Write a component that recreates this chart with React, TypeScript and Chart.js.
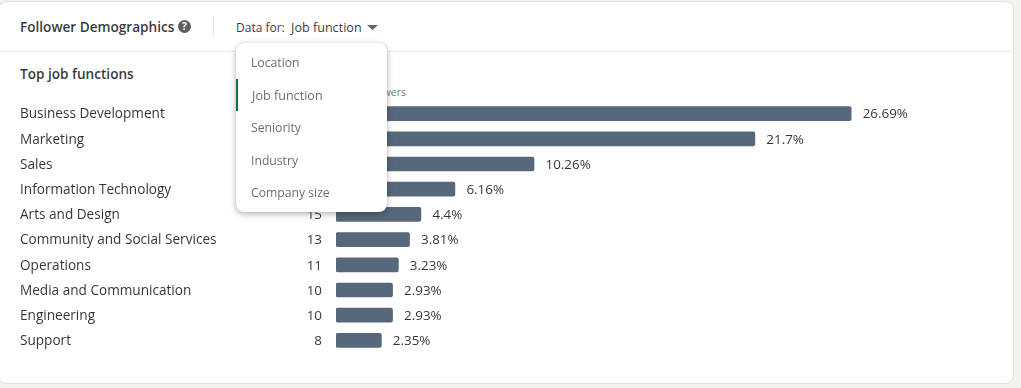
import React, { useEffect, useRef } from "react";
import { Chart, registerables } from "chart.js";

Chart.register(...registerables);

const categories = [
  "Business Development",
  "Marketing",
  "Sales",
  "Information Technology",
  "Arts and Design",
  "Community and Social Services",
  "Operations",
  "Media and Communication",
  "Engineering",
  "Support",
];
const followerCounts = [91, 74, 35, 21, 15, 13, 11, 10, 10, 8];
const percentages = [26.69, 21.7, 10.26, 6.16, 4.4, 3.81, 3.23, 2.93, 2.93, 2.35];
const menuItems = ["Location", "Job function", "Seniority", "Industry", "Company size"];
const menuTops = [53, 86, 118, 151, 183];

const FONT = '"Open Sans", sans-serif';
const TEXT = "rgba(0,0,0,0.8)";
const LABEL_FONT = `13.4px ${FONT}`;

const columnsPlugin = {
  id: "columns",
  afterDatasetsDraw(chart: any) {
    const { ctx } = chart;
    const meta = chart.getDatasetMeta(0);
    ctx.save();
    ctx.font = LABEL_FONT;
    ctx.fillStyle = TEXT;
    ctx.textBaseline = "middle";
    meta.data.forEach((bar: any, i: number) => {
      ctx.textAlign = "left";
      ctx.fillText(`${percentages[i]}%`, bar.x + 11.5, bar.y + 1);
      ctx.textAlign = "right";
      ctx.fillText(String(followerCounts[i]), 322, bar.y + 1);
    });
    ctx.restore();
  },
};

const abs = (left: number, top: number, extra: React.CSSProperties = {}): React.CSSProperties => ({
  position: "absolute",
  left,
  top,
  whiteSpace: "nowrap",
  lineHeight: "20px",
  ...extra,
});

export default function App() {
  const ref = useRef<HTMLCanvasElement>(null);

  useEffect(() => {
    document.body.style.margin = "0";
    document.body.style.background = "#f3f2ee";
    const chart = new Chart(ref.current!, {
      type: "bar",
      data: {
        labels: categories,
        datasets: [
          {
            data: percentages,
            backgroundColor: "#56687a",
            barThickness: 14,
            borderRadius: 2,
            borderSkipped: false,
          },
        ],
      },
      options: {
        indexAxis: "y",
        animation: false,
        responsive: false,
        events: [],
        layout: { padding: { left: 20, top: 101, bottom: 35, right: 21 } },
        plugins: { legend: { display: false }, tooltip: { enabled: false } },
        scales: {
          x: { display: false, min: 0, max: 34.4 },
          y: {
            afterFit(scale: any) {
              scale.width = 316;
            },
            border: { display: false },
            grid: { display: false, drawTicks: false },
            ticks: {
              crossAlign: "far",
              padding: 0,
              labelOffset: 1,
              color: TEXT,
              font: { family: FONT, size: 13.6 },
            },
          },
        },
      },
      plugins: [columnsPlugin],
    });
    return () => chart.destroy();
  }, []);

  return (
    <div style={{ position: "relative", width: 1021, height: 388, overflow: "hidden", fontFamily: FONT, fontSize: 13.6, color: TEXT }}>
      <div
        style={{
          position: "absolute",
          left: -1,
          top: 2,
          width: 1014,
          height: 381,
          background: "#fff",
          borderRadius: 8,
          boxShadow: "0 0 0 1px rgba(0,0,0,0.08)",
        }}
      />
      <div style={{ position: "absolute", left: 0, top: 51, width: 1013, height: 1, background: "#ebebeb" }} />
      <div style={{ position: "absolute", left: 213, top: 16, width: 1, height: 21, background: "#e8e8e8" }} />
      <div style={abs(20, 17, { fontWeight: 600, fontSize: 13.6 })}>Follower Demographics</div>
      <svg style={{ position: "absolute", left: 178, top: 20 }} width="13" height="13" viewBox="0 0 13 13">
        <circle cx="6.5" cy="6.5" r="6.5" fill="#5e5e5e" />
        <text x="6.5" y="10.2" textAnchor="middle" fontSize="10" fontWeight="700" fill="#fff" fontFamily={FONT}>?</text>
      </svg>
      <div style={abs(236, 18, { fontSize: 12 })}>Data for:</div>
      <div style={abs(291, 18, { fontSize: 12.6 })}>Job function</div>
      <svg style={{ position: "absolute", left: 367, top: 25 }} width="11" height="5" viewBox="0 0 11 5">
        <path d="M0 0 H11 L5.5 5 Z" fill="#666" />
      </svg>
      <div style={abs(20, 64, { fontWeight: 600, fontSize: 13.6 })}>Top job functions</div>
      <div style={{ position: "absolute", right: 615, top: 82, lineHeight: "20px", whiteSpace: "nowrap", fontSize: 10.5, color: "#777" }}>% of followers</div>
      <canvas ref={ref} width={1021} height={388} style={{ position: "absolute", left: 0, top: 0, display: "block" }} />
      <div
        style={{
          position: "absolute",
          left: 236,
          top: 43,
          width: 151,
          height: 169,
          background: "#fff",
          borderRadius: 8,
          boxShadow: "0 2px 6px rgba(0,0,0,0.3), 0 0 1px rgba(0,0,0,0.25)",
        }}
      />
      <div style={{ position: "absolute", left: 236, top: 79, width: 2, height: 32, background: "#057642" }} />
      {menuItems.map((item, i) => (
        <div key={item} style={abs(i === 1 ? 252 : 251, menuTops[i], { fontSize: i === 1 ? 12.6 : 12.2, color: "rgba(0,0,0,0.6)" })}>
          {item}
        </div>
      ))}
    </div>
  );
}
